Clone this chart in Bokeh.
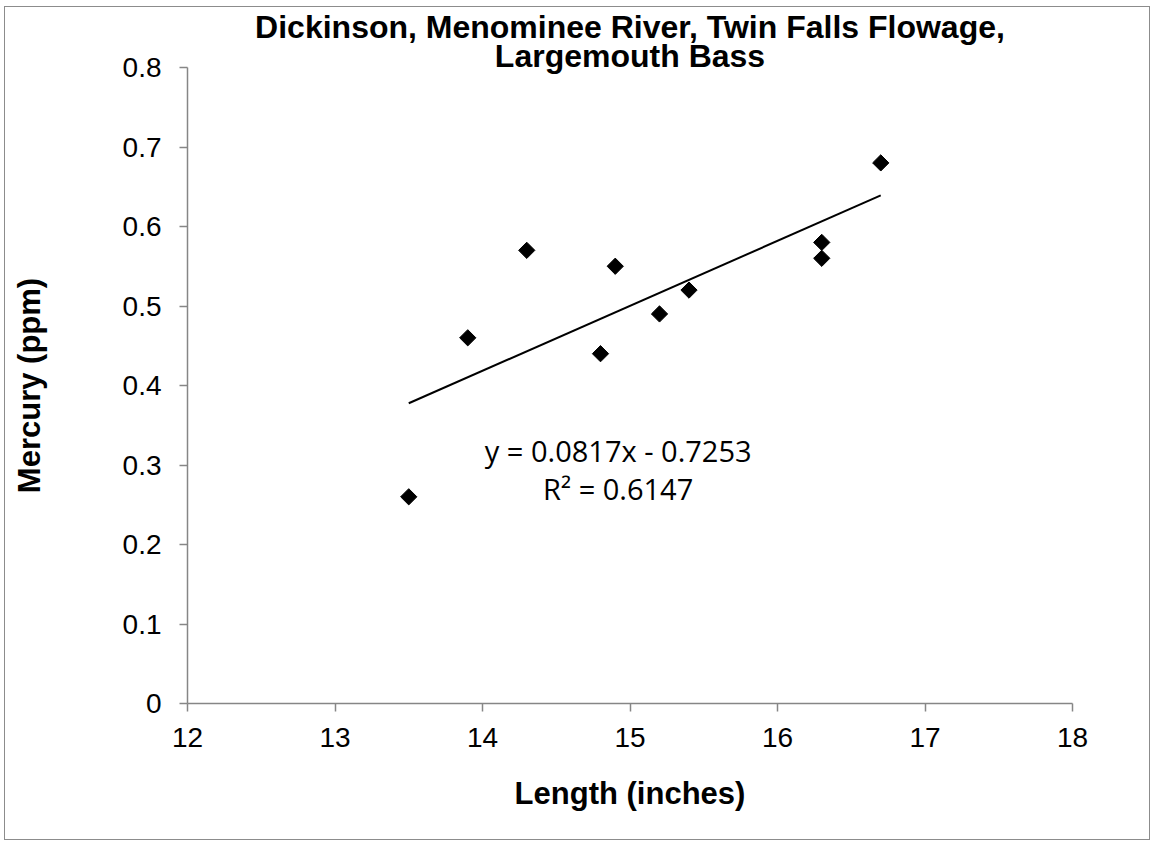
from bokeh.plotting import figure
from bokeh.models import Label, Range1d, ColumnDataSource, FixedTicker, Title
from bokeh.embed import file_html
from bokeh.resources import INLINE
import math

# Data
length_in = [13.5, 13.9, 14.3, 14.8, 14.9, 15.2, 15.4, 16.3, 16.3, 16.7]
mercury_ppm = [0.26, 0.46, 0.57, 0.44, 0.55, 0.49, 0.52, 0.58, 0.56, 0.68]
slope = 0.0817
intercept = -0.7253
r_squared = 0.6147
x_ticks = [12, 13, 14, 15, 16, 17, 18]
y_ticks = [0, 0.1, 0.2, 0.3, 0.4, 0.5, 0.6, 0.7, 0.8]
title_lines = ["Dickinson, Menominee River, Twin Falls Flowage,", "Largemouth Bass"]

AXIS_GRAY = "#868686"

# canvas origin on page is (5, 7) because of the css margin + border
OX, OY = 5, 7
W, H = 1146, 834
p = figure(width=W, height=H, output_backend="svg", toolbar_location=None,
           x_range=Range1d(12, 18), y_range=Range1d(0, 0.8),
           min_border_left=187 - OX, min_border_right=W - (1072 - OX), min_border_top=67 - OY,
           min_border_bottom=H - (703 - OY), title=None)
p.styles = {"border": "1px solid #8c8c8c", "margin-left": "4px", "margin-top": "6px"}
p.outline_line_color = None
p.xgrid.visible = False
p.ygrid.visible = False
p.background_fill_color = "white"
p.border_fill_color = "white"

for ax in (p.xaxis[0], p.yaxis[0]):
    ax.axis_line_color = AXIS_GRAY
    ax.axis_line_width = 1.5
    ax.major_tick_line_color = AXIS_GRAY
    ax.major_tick_line_width = 1.5
    ax.major_tick_in = 0
    ax.major_tick_out = 8
    ax.minor_tick_line_color = None
    ax.major_label_text_font = "Liberation Sans"
    ax.major_label_text_font_size = "28px"
    ax.major_label_text_color = "black"
    ax.axis_label_text_font = "Liberation Sans"
    ax.axis_label_text_font_style = "bold"
    ax.axis_label_text_font_size = "31px"
    ax.axis_label_text_color = "black"

p.xaxis.ticker = FixedTicker(ticks=x_ticks)
p.yaxis.ticker = FixedTicker(ticks=y_ticks)
p.yaxis.major_label_overrides = {0: "0"}
p.xaxis.axis_label = "Length (inches)"
p.yaxis.axis_label = "Mercury (ppm)"
p.xaxis.major_label_standoff = 16
p.yaxis.major_label_standoff = 18
p.xaxis.axis_label_standoff = 26
p.yaxis.axis_label_standoff = 73

src = ColumnDataSource(dict(x=length_in, y=mercury_ppm))
p.scatter("x", "y", source=src, marker="square", size=11.5, angle=math.pi / 4,
          fill_color="black", line_color="black")

x0, x1 = min(length_in), max(length_in)
p.line([x0, x1], [slope * x0 + intercept, slope * x1 + intercept], line_color="black", line_width=2)

eq1 = f"y = {slope}x - {abs(intercept)}"
eq2 = f"R\u00b2 = {r_squared}"
for txt, yv in ((eq1, 0.318), (eq2, 0.27)):
    p.add_layout(Label(x=14.92, y=yv, text=txt, text_font="Open Sans", text_font_size="29px",
                       text_align="center", text_baseline="middle", text_color="black"))

# title lines: inner line added first (closest to the frame)
for txt, so in ((title_lines[1], -13), (title_lines[0], -4)):
    p.add_layout(Title(text=txt, align="center", text_font="Liberation Sans",
                       text_font_style="bold", text_font_size="32px", text_color="black",
                       standoff=so, offset=0), "above")

open("out.html", "w").write(file_html(p, INLINE))
